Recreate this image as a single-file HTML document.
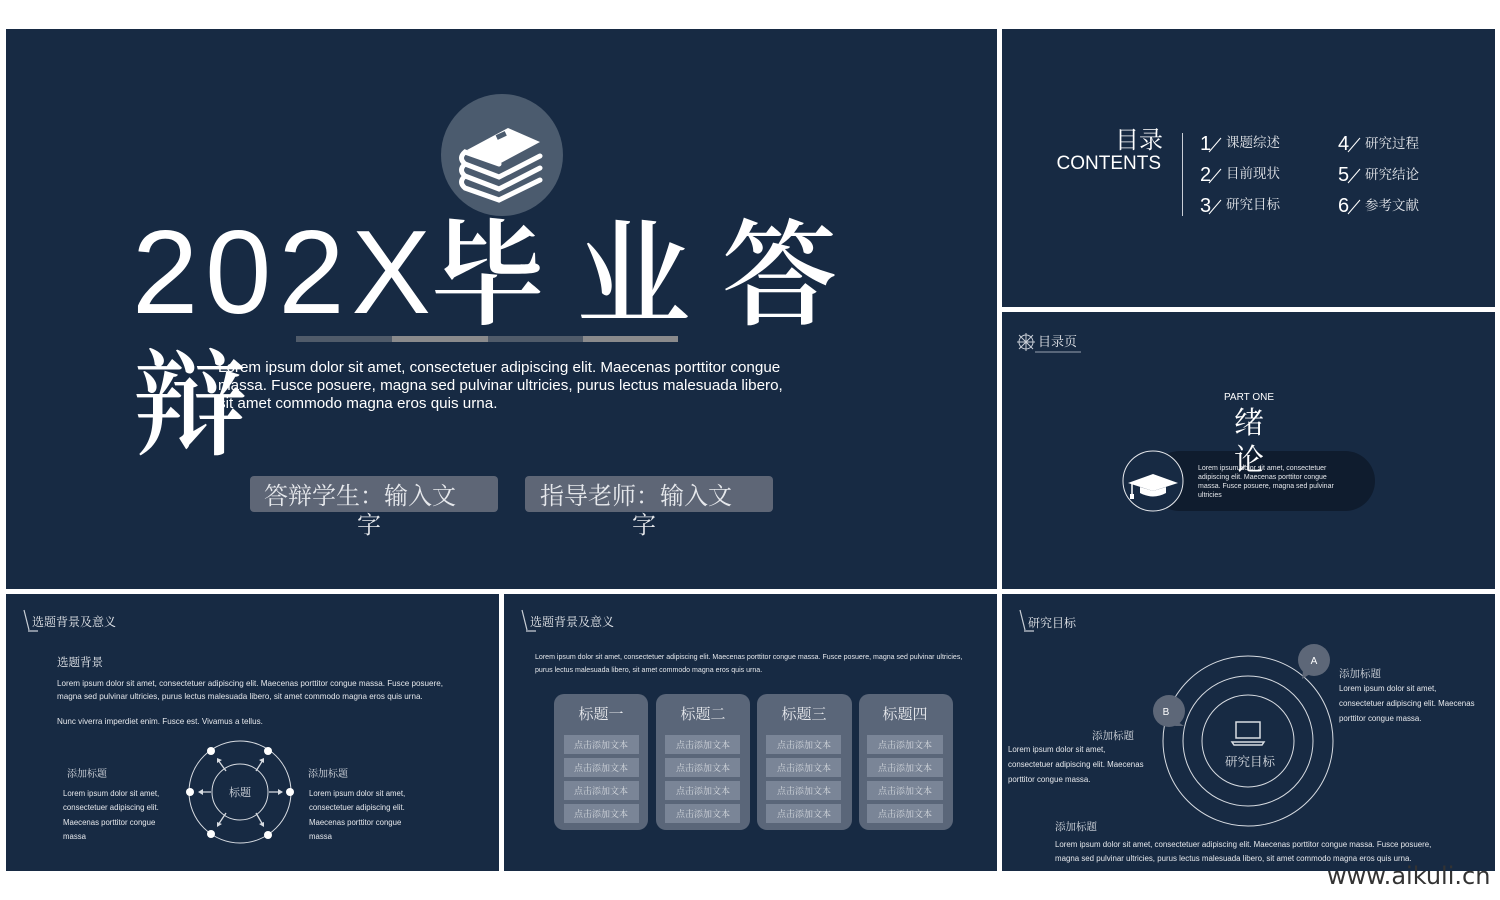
<!DOCTYPE html>
<html><head><meta charset="utf-8"><style>
html,body{margin:0;padding:0;background:#fff;width:1500px;height:900px;overflow:hidden}
svg{display:block}
.s{font-family:"Liberation Sans","Noto Sans CJK SC",sans-serif}
.c{font-family:"Liberation Serif","Noto Serif CJK SC",serif}
</style></head><body>
<svg width="1500" height="900" viewBox="0 0 1500 900" xmlns="http://www.w3.org/2000/svg">
<rect width="1500" height="900" fill="#fff"/>
<g fill="#172a43">
<rect x="6" y="29" width="991" height="560"/>
<rect x="1002" y="29" width="493" height="278"/>
<rect x="1002" y="312" width="493" height="277"/>
<rect x="6" y="594" width="493" height="277"/>
<rect x="504" y="594" width="493" height="277"/>
<rect x="1002" y="594" width="493" height="277"/>
</g>

<!-- Main slide -->
<circle cx="502" cy="155" r="61" fill="#4b5b6e"/>
<g fill="#fff">
<path d="M467 150 L508 128 L540 142 L499 164 Z"/>
<rect x="496" y="133" width="10" height="5" fill="#4b5b6e" transform="rotate(-25 501 135)"/>
</g>
<g fill="none" stroke="#fff" stroke-width="5" stroke-linecap="round">
<path d="M499 164 L465 152 Q458 158 465 164 L499 177 L540 156"/>
<path d="M465 164 Q458 170 465 176 L499 189 L540 168"/>
<path d="M465 176 Q458 182 465 188 L499 200 L540 180"/>
</g>
<text x="132" y="313" class="s" font-size="119" fill="#fff" letter-spacing="7">202X</text>
<g class="c" font-size="115" fill="#fff" font-weight="600">
<text x="430" y="315">毕</text>
<text x="576" y="315">业</text>
<text x="722" y="315">答</text>
<text x="133" y="445">辩</text>
</g>
<rect x="296" y="336" width="96" height="6" fill="#505b6a"/>
<rect x="392" y="336" width="96" height="6" fill="#8a8a8c"/>
<rect x="488" y="336" width="95" height="6" fill="#505b6a"/>
<rect x="583" y="336" width="95" height="6" fill="#8a8a8c"/>
<g class="s" font-size="15.2" fill="#fff">
<text x="218" y="372">Lorem ipsum dolor sit amet, consectetuer adipiscing elit. Maecenas porttitor congue</text>
<text x="218" y="390">massa. Fusce posuere, magna sed pulvinar ultricies, purus lectus malesuada libero,</text>
<text x="218" y="408">sit amet commodo magna eros quis urna.</text>
</g>
<rect x="250" y="476" width="248" height="36" rx="4" fill="#5e6676"/>
<rect x="525" y="476" width="248" height="36" rx="4" fill="#5e6676"/>
<g class="c" font-size="24" fill="#e6e8ec">
<text x="264" y="504">答辩学生：输入文</text>
<text x="357" y="533">字</text>
<text x="540" y="504">指导老师：输入文</text>
<text x="632" y="533">字</text>
</g>

<!-- Contents slide -->
<text x="1163" y="148" text-anchor="end" class="c" font-size="24" fill="#fff">目录</text>
<text x="1161" y="169" text-anchor="end" class="s" font-size="19" fill="#fff">CONTENTS</text>
<line x1="1182.5" y1="133" x2="1182.5" y2="216" stroke="#c9ced6" stroke-width="1"/>
<g class="s" font-size="20" fill="#fff">
<text x="1200" y="150">1</text><text x="1200" y="181">2</text><text x="1200" y="212">3</text>
<text x="1338" y="150">4</text><text x="1338" y="181">5</text><text x="1338" y="212">6</text>
</g>
<g stroke="#fff" stroke-width="1">
<line x1="1209" y1="152" x2="1221" y2="138"/><line x1="1209" y1="183" x2="1221" y2="169"/><line x1="1209" y1="214" x2="1221" y2="200"/>
<line x1="1348" y1="152" x2="1360" y2="138"/><line x1="1348" y1="183" x2="1360" y2="169"/><line x1="1348" y1="214" x2="1360" y2="200"/>
</g>
<g class="c" font-size="13.5" fill="#e6e8ec">
<text x="1226" y="147">课题综述</text><text x="1226" y="178">目前现状</text><text x="1226" y="209">研究目标</text>
<text x="1365" y="148">研究过程</text><text x="1365" y="179">研究结论</text><text x="1365" y="210">参考文献</text>
</g>

<!-- 目录页 slide -->
<g stroke="#c9ced6" fill="none" stroke-width="1">
<circle cx="1026" cy="342" r="7"/>
<path d="M1019 335 L1033 349 M1033 335 L1019 349 M1026 333 L1026 351 M1017 342 L1035 342"/>
</g>
<text x="1038" y="346" class="c" font-size="13" fill="#e6e8ec">目录页</text>
<line x1="1035" y1="352" x2="1081" y2="352" stroke="#9aa3b0" stroke-width="1"/>
<text x="1249" y="400" text-anchor="middle" class="s" font-size="10" fill="#fff">PART ONE</text>
<rect x="1150" y="451" width="225" height="60" rx="30" fill="#0f1c2e"/>
<circle cx="1153" cy="481" r="30" fill="#172a43" stroke="#e6e8ec" stroke-width="1"/>
<path d="M1128 483 L1153 474 L1178 483 L1153 491 Z" fill="#fff"/>
<path d="M1140 487 L1140 493 Q1153 500 1166 493 L1166 487 L1153 491 Z" fill="#fff"/>
<line x1="1132" y1="484" x2="1132" y2="495" stroke="#fff" stroke-width="1.5"/>
<rect x="1130" y="494" width="4" height="5" fill="#fff"/>
<g class="c" font-size="30" fill="#fff">
<text x="1249" y="433" text-anchor="middle">绪</text>
<text x="1249" y="470" text-anchor="middle">论</text>
</g>
<g class="s" font-size="7" fill="#e6e8ec">
<text x="1198" y="470">Lorem ipsum dolor sit amet, consectetuer</text>
<text x="1198" y="479">adipiscing elit. Maecenas porttitor congue</text>
<text x="1198" y="488">massa. Fusce posuere, magna sed pulvinar</text>
<text x="1198" y="497">ultricies</text>
</g>

<!-- Header pencil icons -->
<g stroke="#c9ced6" stroke-width="1.2" fill="none">
<path d="M24 610 L29 630 M28 631 L38 631"/>
<path d="M522 610 L527 630 M526 631 L536 631"/>
<path d="M1020 610 L1025 630 M1024 631 L1034 631"/>
</g>
<g class="c" font-size="12" fill="#e6e8ec">
<text x="32" y="626">选题背景及意义</text>
<text x="530" y="626">选题背景及意义</text>
<text x="1028" y="627">研究目标</text>
</g>

<!-- Bottom-left slide -->
<text x="57" y="666" class="c" font-size="11.5" fill="#e6e8ec">选题背景</text>
<g class="s" font-size="8.1" fill="#e6e8ec">
<text x="57" y="686">Lorem ipsum dolor sit amet, consectetuer adipiscing elit. Maecenas porttitor congue massa. Fusce posuere,</text>
<text x="57" y="699">magna sed pulvinar ultricies, purus lectus malesuada libero, sit amet commodo magna eros quis urna.</text>
<text x="57" y="724">Nunc viverra imperdiet enim. Fusce est. Vivamus a tellus.</text>
</g>
<g fill="none" stroke="#d8dce2" stroke-width="1">
<circle cx="240" cy="792" r="51"/>
<circle cx="240" cy="792" r="28"/>
<path d="M211 792 L200 792 M269 792 L281 792 M226 771 L218 760 M256 771 L263 760 M226 813 L218 825 M256 813 L263 825" stroke-width="1.3"/>
</g>
<g fill="#d8dce2">
<path d="M198 792 L203 789 L203 795 Z"/>
<path d="M283 792 L278 789 L278 795 Z"/>
<path d="M217 758 L222 760 L217 763 Z"/>
<path d="M264 758 L264 763 L259 760 Z"/>
<path d="M217 827 L217 822 L222 824 Z"/>
<path d="M264 827 L259 824 L264 822 Z"/>
</g>
<g fill="#fff">
<circle cx="211" cy="751" r="4"/><circle cx="268" cy="751" r="4"/>
<circle cx="190" cy="792" r="4"/><circle cx="290" cy="792" r="4"/>
<circle cx="211" cy="834" r="4"/><circle cx="268" cy="835" r="4"/>
</g>
<text x="240" y="796" text-anchor="middle" class="c" font-size="11" fill="#d8dce2">标题</text>
<g class="c" font-size="10" fill="#d8dce2">
<text x="67" y="777">添加标题</text><text x="308" y="777">添加标题</text>
</g>
<g class="s" font-size="7.8" fill="#e6e8ec">
<text x="63" y="796">Lorem ipsum dolor sit amet,</text>
<text x="63" y="810">consectetuer adipiscing elit.</text>
<text x="63" y="825">Maecenas porttitor congue</text>
<text x="63" y="839">massa</text>
<text x="309" y="796">Lorem ipsum dolor sit amet,</text>
<text x="309" y="810">consectetuer adipiscing elit.</text>
<text x="309" y="825">Maecenas porttitor congue</text>
<text x="309" y="839">massa</text>
</g>

<!-- Bottom-middle slide -->
<g class="s" font-size="7.05" fill="#e6e8ec">
<text x="535" y="659">Lorem ipsum dolor sit amet, consectetuer adipiscing elit. Maecenas porttitor congue massa. Fusce posuere, magna sed pulvinar ultricies,</text>
<text x="535" y="672">purus lectus malesuada libero, sit amet commodo magna eros quis urna.</text>
</g>
<g fill="#5a6679">
<rect x="554" y="694" width="94" height="136" rx="10"/>
<rect x="656" y="694" width="94" height="136" rx="10"/>
<rect x="757" y="694" width="95" height="136" rx="10"/>
<rect x="859" y="694" width="94" height="136" rx="10"/>
</g>
<g class="c" font-size="15" fill="#e6e8ec" text-anchor="middle">
<text x="601" y="719">标题一</text><text x="703" y="719">标题二</text>
<text x="804" y="719">标题三</text><text x="905" y="719">标题四</text>
</g>
<g fill="#7a8597">
<rect x="564" y="735" width="75" height="19"/><rect x="564" y="758" width="75" height="19"/><rect x="564" y="781" width="75" height="19"/><rect x="564" y="804" width="75" height="19"/>
<rect x="665" y="735" width="75" height="19"/><rect x="665" y="758" width="75" height="19"/><rect x="665" y="781" width="75" height="19"/><rect x="665" y="804" width="75" height="19"/>
<rect x="766" y="735" width="75" height="19"/><rect x="766" y="758" width="75" height="19"/><rect x="766" y="781" width="75" height="19"/><rect x="766" y="804" width="75" height="19"/>
<rect x="867" y="735" width="76" height="19"/><rect x="867" y="758" width="76" height="19"/><rect x="867" y="781" width="76" height="19"/><rect x="867" y="804" width="76" height="19"/>
</g>
<g class="c" font-size="9" fill="#d4d8de" text-anchor="middle">
<text x="601" y="748">点击添加文本</text><text x="601" y="771">点击添加文本</text><text x="601" y="794">点击添加文本</text><text x="601" y="817">点击添加文本</text>
<text x="703" y="748">点击添加文本</text><text x="703" y="771">点击添加文本</text><text x="703" y="794">点击添加文本</text><text x="703" y="817">点击添加文本</text>
<text x="804" y="748">点击添加文本</text><text x="804" y="771">点击添加文本</text><text x="804" y="794">点击添加文本</text><text x="804" y="817">点击添加文本</text>
<text x="905" y="748">点击添加文本</text><text x="905" y="771">点击添加文本</text><text x="905" y="794">点击添加文本</text><text x="905" y="817">点击添加文本</text>
</g>

<!-- Bottom-right slide -->
<g fill="none" stroke="#d8dce2" stroke-width="1">
<circle cx="1248" cy="741" r="85"/>
<circle cx="1248" cy="741" r="65"/>
<circle cx="1248" cy="741" r="46"/>
</g>
<g fill="#5d6778">
<circle cx="1314" cy="660" r="16"/><path d="M1303 671 L1302 679 L1310 674 Z"/>
<circle cx="1169" cy="711" r="16"/><path d="M1178 722 L1184 726 L1175 726 Z"/>
</g>
<g class="s" font-size="10" fill="#fff" text-anchor="middle">
<text x="1314" y="664">A</text><text x="1166" y="715">B</text>
</g>
<g fill="none" stroke="#d8dce2" stroke-width="1.5">
<rect x="1236" y="722" width="24" height="16"/>
<path d="M1232 742 L1264 742 L1262 745 L1234 745 Z"/>
</g>
<text x="1250" y="766" text-anchor="middle" class="c" font-size="12.5" fill="#d8dce2">研究目标</text>
<g class="c" font-size="10.5" fill="#d8dce2">
<text x="1339" y="677">添加标题</text>
<text x="1092" y="739">添加标题</text>
<text x="1055" y="830">添加标题</text>
</g>
<g class="s" font-size="7.9" fill="#e6e8ec">
<text x="1339" y="691">Lorem ipsum dolor sit amet,</text>
<text x="1339" y="706">consectetuer adipiscing elit. Maecenas</text>
<text x="1339" y="721">porttitor congue massa.</text>
<text x="1008" y="752">Lorem ipsum dolor sit amet,</text>
<text x="1008" y="767">consectetuer adipiscing elit. Maecenas</text>
<text x="1008" y="782">porttitor congue massa.</text>
<text x="1055" y="847">Lorem ipsum dolor sit amet, consectetuer adipiscing elit. Maecenas porttitor congue massa. Fusce posuere,</text>
<text x="1055" y="861">magna sed pulvinar ultricies, purus lectus malesuada libero, sit amet commodo magna eros quis urna.</text>
</g>

<text x="1327" y="884" font-family="DejaVu Sans, sans-serif" font-size="24" fill="#333">www.aikuli.cn</text>
</svg>
</body></html>
